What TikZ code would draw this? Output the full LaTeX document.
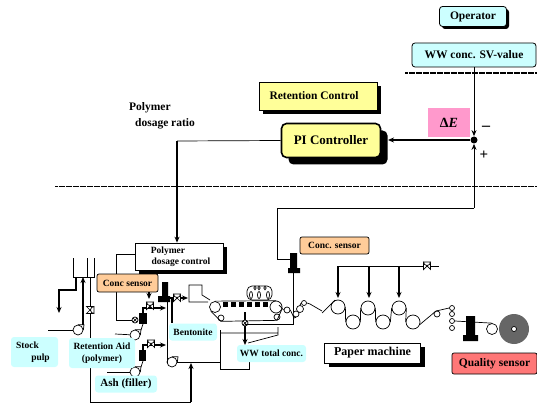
\documentclass[tikz,border=0pt]{standalone}
\usepackage{fontspec}
\setmainfont{Liberation Serif}
\usetikzlibrary{shadows,arrows.meta}
\definecolor{lightcyan}{HTML}{CCFFFF}
\definecolor{lightyellow}{HTML}{FFFF99}
\definecolor{lightorange}{HTML}{FFCC99}
\definecolor{lightpink}{HTML}{FF99CC}
\definecolor{lightred}{HTML}{FF7777}
\tikzset{
  plaintext/.style={inner sep=0, align=left, font=\bfseries\fontsize{11.5}{16}\selectfont},
  cyantag/.style={fill=lightcyan, rounded corners=3pt, inner sep=0, align=center, font=\bfseries\fontsize{9.5}{12}\selectfont},
  oplabel/.style={draw, line width=0.8pt, fill=lightcyan, rounded corners=3pt, inner sep=0, font=\bfseries\fontsize{11.5}{12}\selectfont},
  sensortag/.style={draw, fill=lightorange, rounded corners=2pt, inner sep=0, font=\bfseries\fontsize{9.5}{10}\selectfont},
  shadowbox/.style={draw, inner sep=0, align=center, general shadow={sharp corners, shadow xshift=#1, shadow yshift=-#1, fill=black}},
  roll/.style={circle, draw, fill=white, inner sep=0, minimum size=#1},
  pipe/.style={line width=1.2pt},
  dashline/.style={line width=1.3pt, dash pattern=on 1.6pt off 0.15pt},
  valve/.pic={
    \draw[fill=white] (-3.5,-3.5) -- (3.5,3.5) -- (3.5,-3.5) -- (-3.5,3.5) -- cycle;
    \draw (0,0) -- (0,-4);
    \draw[fill=white] (-3.5,-4) arc (180:0:3.5) -- cycle;
  },
  every path/.append style={line width=0.7pt}
}
\begin{document}
\begin{tikzpicture}[x=1pt, y=-1pt, >={Stealth[length=6pt,width=5pt]}]
  \useasboundingbox (0,0) rectangle (537,403);
  % upper part
  \draw[dashline] (405,73) -- (537,73);
  \draw[dashline] (55,186.5) -- (537,186.5);
  \node[oplabel, general shadow={sharp corners, shadow xshift=2.5pt, shadow yshift=-2.5pt, fill=black}, minimum width=67pt, minimum height=20pt] (operator) at (473,16.5) {Operator};
  \node[oplabel, minimum width=124pt, minimum height=24pt] (svvalue) at (474,55) {WW conc. SV-value};
  \node[fill=lightpink, minimum width=42pt, minimum height=29pt, inner sep=0, font=\bfseries\fontsize{14}{14}\selectfont] (deltae) at (449,122.5) {Δ\textit{E}};
  \node[circle, fill=black, inner sep=0, minimum size=7pt] (junction) at (474,140) {};
  \node[inner sep=0, font=\bfseries\fontsize{16}{16}\selectfont] (minus) at (486,128) {--};
  \node[inner sep=0, font=\bfseries\fontsize{15}{15}\selectfont] (plus) at (484,155) {+};
  \node[shadowbox=4pt, fill=lightyellow, minimum width=118pt, minimum height=28pt, font=\bfseries\fontsize{11.5}{12}\selectfont] (retention) at (318,96) {\hspace*{-8pt}Retention Control};
  \node[shadowbox=7pt, line width=1.6pt, rounded corners=5pt, fill=lightyellow, minimum width=99pt, minimum height=34pt, font=\bfseries\fontsize{13}{13}\selectfont] (picontrol) at (331,140.5) {PI Controller};
  \node[plaintext] (ratio) at (162,116) {Polymer\\\hspace*{6pt}dosage ratio};
  \coordinate (feedcorner) at (474,208);
  \coordinate (feedturn) at (277,208);
  \coordinate (feedend) at (277,259);
  \coordinate (dosecorner) at (177,141);
  % control lines
  \draw[line width=1pt, ->] (svvalue) -- (junction);
  \draw[line width=1pt, ->] (feedcorner) -- (junction);
  \draw[line width=1.8pt, ->] (junction) -- (388,140);
  \draw (feedcorner) -- (feedturn) -- (feedend) -- (290,259);
  \draw (picontrol.west) -- (dosecorner);
  \draw (135,254) -- (116,254) -- (116,320) -- (132,320);
  % stock tank
  \draw (73,258) -- (73,277) -- (94,277) -- (94,258) (87,258) -- (87,277);
  \node[roll=10pt] (stockpump) at (78,330) {};
  \node[roll=10pt] (polypump) at (135,335) {};
  \node[roll=10pt] (ashpump) at (135,372) {};
  \node[roll=10pt] (benpump) at (172,362) {};
  \foreach \pn in {stockpump,polypump,ashpump,benpump}
    \draw (\pn.north) -- ++(6,0) -- (\pn.east);
  \draw (48,330) -- (stockpump);
  \draw[pipe, ->] (83,325) -- (83,277);
  \draw[pipe, ->] (76,277) -- (76,290) -- (59,290) -- (59,313);
  \draw (90,277) -- (90,402) -- (191,402);
  \draw[pipe, ->] (191,402) -- (191,363);
  \draw (90,310) pic[rotate=-90] {valve};
  % chemical lines
  \draw (115,334) -- (polypump);
  \draw (107,372) -- (ashpump);
  \draw (141,330) -- (143,324);
  \draw (141,367) -- (143,361);
  \draw[pipe, ->] (143,313) -- (143,308) -- (166,308);
  \draw[pipe, ->] (143,350) -- (143,345) -- (166,345);
  \fill (139,313) rectangle (147,324);
  \fill (139,350) rectangle (146,361);
  \draw[fill=white] (135,320) circle (3pt);
  \draw (132.9,317.9) -- (137.1,322.1) (132.9,322.1) -- (137.1,317.9);
  \draw (150,306) pic {valve};
  \draw (151,344) pic {valve};
  \draw (167,300) -- (167,362) -- (benpump);
  \fill (162,282) rectangle (168,296) (158,296) rectangle (170,302);
  \draw[pipe] (172,323) -- (172,298);
  \draw[pipe, ->] (168,298) -- (188,298);
  \draw (177,298) pic {valve};
  \draw (benpump) -- (220,362);
  % headbox and wire part
  \draw (208,302) -- (189,302) -- (189,285) -- (202,285) -- (202,295) -- (210,300);
  \node[roll=11pt] (couch) at (215,307) {};
  \node[roll=12pt] (turning) at (276,307) {};
  \node[roll=6pt] (wireone) at (221,318) {};
  \node[roll=6pt] (wiretwo) at (277,317) {};
  \draw (couch.north) -- (turning.north);
  \draw (couch.-135) -- (wireone.south) -- (wiretwo.south) -- (turning.-30);
  \foreach \sx in {225,233,241,249,257,265}
    \fill (\sx-2.5,301.5) rectangle (\sx+2.5,306.5);
  \draw[rounded corners=5pt] (247,286) rectangle (272,300);
  \foreach \ex in {255,259,265}
    \draw (\ex,288) ellipse (1.2pt and 1.8pt);
  \foreach \ex in {251,259,268}
    \draw (\ex,295) ellipse (1.5pt and 3.5pt);
  % white water loop
  \draw (220,333) -- (278,333) -- (278,327) (278,333) -- (278,335) -- (248,343);
  \draw (220,330) -- (220,369) -- (249,369) -- (249,362);
  \draw[pipe, ->] (245,312) -- (245,345);
  \draw[fill=white] (245,323) circle (3pt);
  \draw (243,321) -- (247,325) (243,325) -- (247,321);
  \draw (245,324) -- (293,324) -- (293,273);
  \fill (290,253) rectangle (297,268) (288,268) rectangle (300,273);
  % press part
  \node[roll=6pt] (pressa) at (287,310) {};
  \node[roll=6pt] (pressb) at (296,314) {};
  \node[roll=7pt] (pressc) at (300,309) {};
  \node[roll=5pt] (pressd) at (304,303) {};
  \draw (279,305) -- (pressa.west) (pressa.east) -- (294,318) -- (pressb.south) (pressc.north) -- (pressd.west) (pressd.east) -- (310,304) -- (322,311);
  % dryer part
  \node[roll=14pt] (dryerA) at (338,307) {};
  \node[roll=14pt] (dryerB) at (353,322) {};
  \node[roll=14pt] (dryerC) at (368,308) {};
  \node[roll=14pt] (dryerD) at (383,322) {};
  \node[roll=14pt] (dryerE) at (399,308) {};
  \node[roll=14pt] (dryerF) at (413,322) {};
  \draw (322,313) -- (335,300);
  \draw (dryerA.east) -- (dryerB.west) (dryerB.east) -- (dryerC.west) (dryerC.east) -- (dryerD.west) (dryerD.east) -- (dryerE.west) (dryerE.east) -- (dryerF.west);
  \coordinate (steamstart) at (338,266);
  \draw (steamstart) -- (439,266);
  \draw (427,266) pic {valve};
  \foreach \sx in {338,369,399}
    \draw[pipe, ->] (\sx,266) -- (\sx,298);
  % reel part
  \node[roll=6pt] (calroll) at (437,314) {};
  \foreach \sy/\cn in {308/cala,314/calb,321/calc,328/cald}
    \node[roll=5pt] (\cn) at (452,\sy) {};
  \draw (dryerF.-20) -- (436,311) -- (cala.west);
  \node[roll=11pt] (reelguide) at (492,329) {};
  \draw (calc.east) -- (reelguide.north);
  \fill (466,316) rectangle (475,335) (463,335) rectangle (478,341);
  \node[circle, fill=black!60, inner sep=0, minimum size=30pt] (reel) at (514,329) {};
  \node[roll=5pt] (reelcore) at (514,329) {};
  % lower boxes
  \node[shadowbox=4pt, fill=white, minimum width=88pt, minimum height=27pt, font=\bfseries\fontsize{9.5}{11}\selectfont] (dosage) at (179,256.5) {\hspace*{-22pt}Polymer\\[0pt]\hspace*{4pt}dosage control};
  \draw[pipe, ->] (dosecorner) -- (dosage.north -| dosecorner);
  \node[sensortag, minimum width=61pt, minimum height=18pt] (concone) at (127.5,283) {Conc sensor};
  \draw[pipe, ->] (concone.south -| 149,0) -- (149,299);
  \node[sensortag, minimum width=69pt, minimum height=17pt] (conctwo) at (334.5,245.5) {Conc. sensor};
  \node[cyantag, minimum width=47pt, minimum height=30pt] (stock) at (34.5,352) {\hspace*{-14pt}Stock\\[0pt]\hspace*{12pt}pulp};
  \node[cyantag, minimum width=66pt, minimum height=30pt] (retaid) at (102,353) {Retention Aid\\(polymer)};
  \node[cyantag, minimum width=62pt, minimum height=17pt, font=\bfseries\fontsize{11}{12}\selectfont] (ash) at (126,384) {Ash (filler)};
  \node[cyantag, minimum width=48pt, minimum height=17pt] (bentonite) at (193,332) {Bentonite};
  \node[cyantag, minimum width=69pt, minimum height=17pt] (wwtotal) at (271.5,353.5) {WW total conc.};
  \node[shadowbox=4pt, fill=white, minimum width=96pt, minimum height=20pt, font=\bfseries\fontsize{12}{12}\selectfont] (papermc) at (372.5,353) {Paper machine};
  \node[draw, rounded corners=2pt, fill=lightred, inner sep=0, minimum width=85pt, minimum height=21pt, font=\bfseries\fontsize{11.5}{12}\selectfont] (quality) at (494.5,363.5) {Quality sensor};
\end{tikzpicture}
\end{document}
